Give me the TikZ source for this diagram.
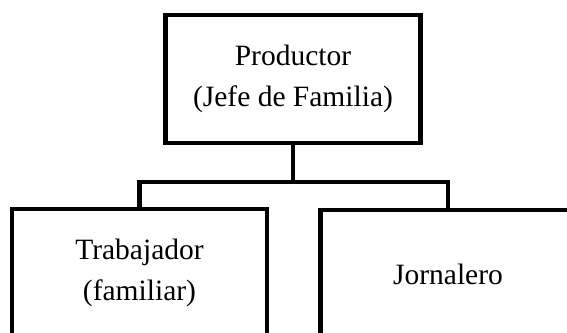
\documentclass[tikz,border=0pt]{standalone}
\usepackage{fontspec}
\setmainfont{Liberation Serif}

\tikzstyle{block}=[rectangle,
    draw=black,
    line width=4.5pt,
    minimum height=128pt,
    minimum width=255pt,
    align=center,
    font=\fontsize{29.5}{41}\selectfont]
\tikzstyle{link}=[draw=black,
    line width=4.5pt]

\begin{document}
\begin{tikzpicture}[x=1pt,y=-1pt]
            \useasboundingbox (0,0) rectangle (567,332);
            \clip (0,0) rectangle (567,332);
            \node (productor) [block] at (293,79) {Productor\\(Jefe de Familia)};
            \node (trabajador) [block] at (139.5,273) {Trabajador\\(familiar)};
            \node (jornalero) [block] at (448,274) {Jornalero};
            \coordinate (split) at (293,182);
            \draw [link] (productor.south) -- (split);
            \draw [link] (split) -| (trabajador.north);
            \draw [link] (split) -| (jornalero.north);
        \end{tikzpicture}
\end{document}
